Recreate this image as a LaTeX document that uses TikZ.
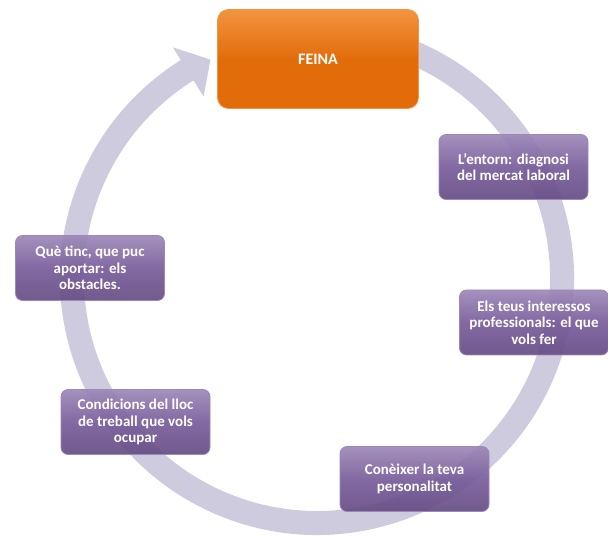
\documentclass[tikz,border=0pt]{standalone}
\usepackage{fontspec}
\setmainfont{Carlito}
\definecolor{violeta}{HTML}{785C9A}
\definecolor{violetaclar}{HTML}{9C88B8}
\definecolor{violetafosc}{HTML}{654C84}
\definecolor{taronja}{HTML}{E36C0A}
\definecolor{taronjaclar}{HTML}{F29440}
\definecolor{anell}{HTML}{CFCBDE}
\tikzset{etapa/.style={draw=violetaclar,line width=.8pt,rounded corners=7pt,
           top color=violetaclar,bottom color=violetafosc,middle color=violeta,
           fill opacity=.92,text opacity=1,text=white,align=center,
           minimum width=149pt,minimum height=65pt,
           font=\fontsize{15}{16.5}\selectfont\bfseries},
         meta/.style={etapa,draw=taronjaclar,top color=taronjaclar,
           bottom color=taronja,middle color=taronja,fill opacity=1,
           rounded corners=11pt,minimum width=201pt,minimum height=99pt,
           font=\fontsize{16}{18}\selectfont\bfseries},
         x=1pt,y=-1pt}

\begin{document}
\begin{tikzpicture}
\useasboundingbox (0,0) rectangle (608,537);
\coordinate (c) at (317,278);
% cercle amb fletxa
\fill[anell] ([shift={(-70:257)}]c) arc[start angle=-70,end angle=238,radius=257]
  -- ([shift={(238:272)}]c) -- ([shift={(244:243)}]c) -- ([shift={(238:214)}]c)
  -- ([shift={(238:233)}]c) arc[start angle=238,end angle=-70,radius=233] -- cycle;

\node[meta]  (feina)    at (318,59)    {FEINA};
\node[etapa] (entorn)   at (513.5,167) {L'entorn: diagnosi\\del mercat laboral};
\node[etapa] (interes)  at (534,322.5) {Els teus interessos\\professionals: el que\\vols fer};
\node[etapa] (person)   at (414.5,479) {Conèixer la teva\\personalitat};
\node[etapa] (condic)   at (135.5,422) {Condicions del lloc\\de treball que vols\\ocupar};
\node[etapa] (aportar)  at (90,268)    {Què tinc, que puc\\aportar: els\\obstacles.};
\end{tikzpicture}
\end{document}
